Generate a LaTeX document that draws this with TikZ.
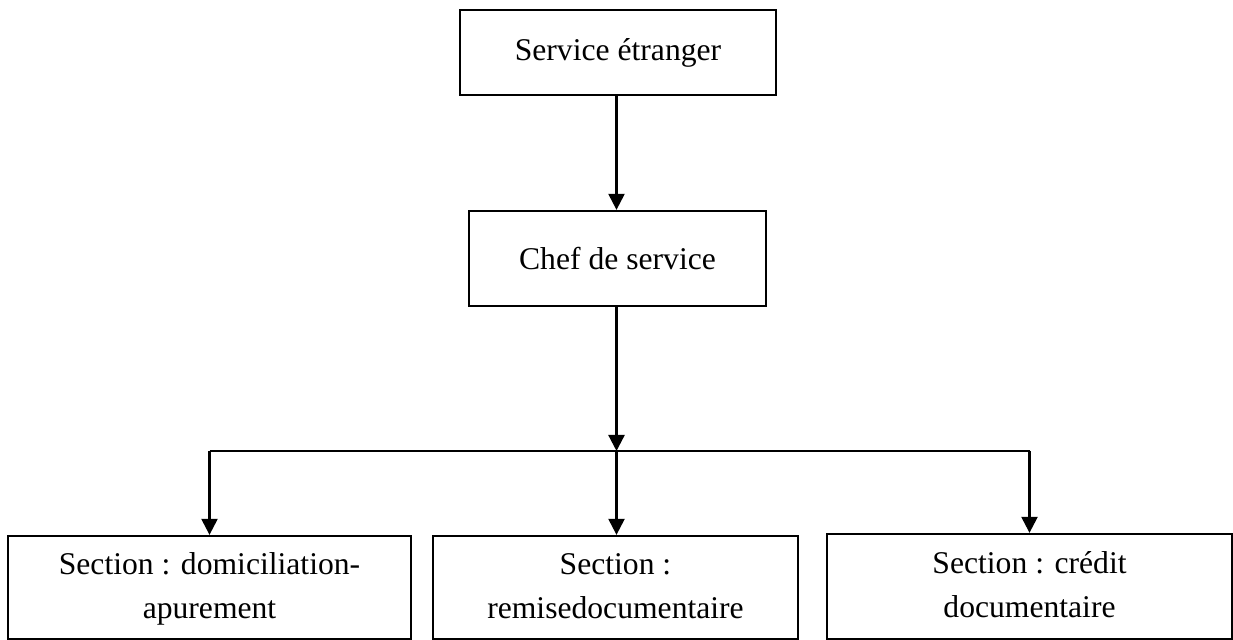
\documentclass[tikz,border=0pt]{standalone}
\usepackage{fontspec}
\setmainfont{Liberation Serif}
\usetikzlibrary{positioning,arrows.meta}

\begin{document}
\begin{tikzpicture}[
    every node/.style={font=\fontsize{18}{25.6}\selectfont},
    unit/.style={draw=black, line width=1.3pt, align=center, inner sep=0pt},
    link/.style={draw=black, line width=1.3pt},
    flow/.style={link, -{Triangle[width=0.32cm,length=0.32cm]}},
]
  \useasboundingbox (0,0) rectangle (24.66,-12.8);
  % boxes (top to bottom)
  \node[unit, minimum width=6.32cm, minimum height=1.70cm] (etranger) at (12.36,-1.05) {Service étranger};
  \node[unit, minimum width=5.94cm, minimum height=1.90cm] (chef) at (12.35,-5.17) {Chef de service};
  \node[unit, minimum width=8.06cm, minimum height=2.06cm] (domic) at (4.19,-11.75) {\strut Section : domiciliation-\\\strut apurement};
  \node[unit, minimum width=7.30cm, minimum height=2.06cm] (remise) at (12.31,-11.75) {\strut Section :\\\strut remisedocumentaire};
  \node[unit, minimum width=8.10cm, minimum height=2.10cm] (credit) at (20.59,-11.73) {\strut Section : crédit\\\strut documentaire};
  % bus line
  \coordinate (bus) at (12.33,-9.02);
  \coordinate (busL) at (domic.north |- bus);
  \coordinate (busR) at (credit.north |- bus);
  % connectors
  \draw[flow] (bus |- etranger.south) -- (bus |- chef.north);
  \draw[flow] (bus |- chef.south) -- (bus);
  \draw[link] (busL) -- (busR);
  \draw[flow] (busL) -- (domic.north);
  \draw[flow] (bus) -- (bus |- remise.north);
  \draw[flow] (busR) -- (credit.north);
\end{tikzpicture}
\end{document}
